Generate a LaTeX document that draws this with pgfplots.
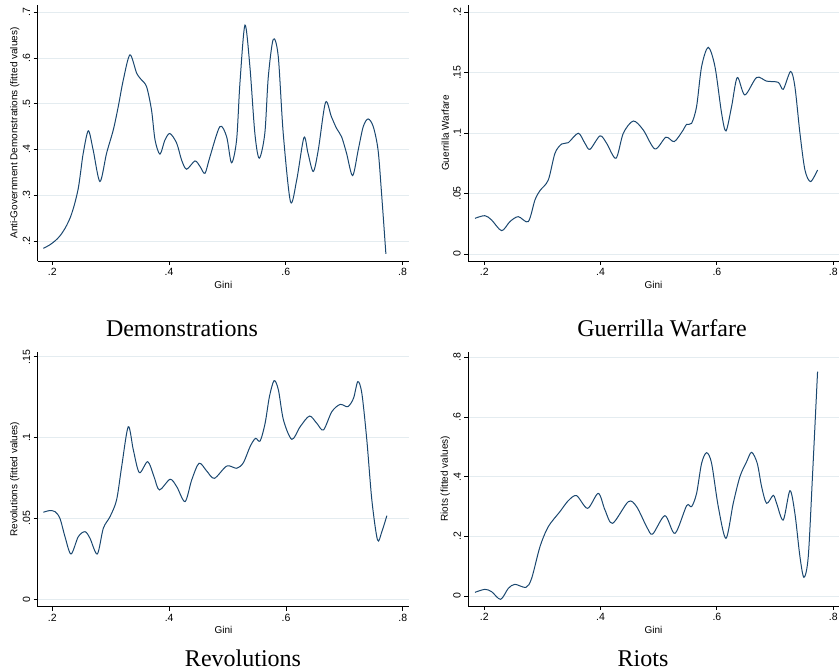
\documentclass[border=0pt]{standalone}
\usepackage{fontspec}
\setmainfont{Liberation Sans}
\newfontfamily\tms{Liberation Serif}
\usepackage{pgfplots}
\pgfplotsset{compat=1.18}
\definecolor{stnavy}{RGB}{26,71,111}
\definecolor{stgrid}{RGB}{228,236,240}
\pgfplotsset{
 stata/.style={
  scale only axis,
  axis lines=left,
  axis line style={-, black, line width=0.9pt},
  tick align=outside,
  major tick length=4pt,
  tick style={black, line width=0.9pt},
  ymajorgrids,
  grid style={stgrid, line width=0.8pt},
  xtick={0.2,0.4,0.6,0.8},
  xticklabels={.2,.4,.6,.8},
  tick label style={font=\fontsize{10.5}{12}\selectfont},
  label style={font=\fontsize{10.7}{12}\selectfont},
  yticklabel style={rotate=90, anchor=south},
  every axis x label/.style={at={(axis description cs:0.5,0)}, anchor=center, yshift=-23.5pt},
  every axis y label/.style={at={(axis description cs:0,0.5)}, rotate=90, anchor=center, yshift=23pt},
  xlabel={Gini},
 },
 curve/.style={stnavy, line width=1pt, smooth, no marks}
}
\begin{document}
\begin{tikzpicture}
\useasboundingbox (0pt,0pt) rectangle (839pt,672pt);
% Demonstrations
\begin{axis}[stata, at={(37.7pt,411pt)}, anchor=south west, width=371.3pt, height=256pt,
  xmin=0.175, xmax=0.811, ymin=0.1563, ymax=0.716,
  ytick={0.2,0.3,0.4,0.5,0.6,0.7}, yticklabels={.2,.3,.4,.5,.6,.7},
  ylabel={Anti-Government Demonstrations (fitted values)}]
\addplot[curve] table {
0.1846 0.184
0.195 0.191
0.2045 0.200
0.213 0.211
0.222 0.228
0.231 0.252
0.238 0.280
0.2445 0.315
0.249 0.355
0.253 0.392
0.2617 0.441
0.270 0.399
0.2816 0.330
0.293 0.392
0.3045 0.443
0.313 0.494
0.3216 0.552
0.333 0.607
0.3445 0.567
0.353 0.552
0.3616 0.537
0.370 0.486
0.376 0.421
0.3844 0.390
0.393 0.421
0.4015 0.435
0.413 0.414
0.4215 0.377
0.430 0.357
0.4443 0.375
0.453 0.363
0.4615 0.348
0.470 0.384
0.487 0.450
0.4986 0.428
0.507 0.371
0.5157 0.421
0.5214 0.545
0.530 0.672
0.5385 0.581
0.547 0.435
0.5545 0.381
0.564 0.435
0.570 0.559
0.5785 0.641
0.587 0.604
0.5956 0.435
0.608 0.286
0.6186 0.333
0.631 0.426
0.638 0.392
0.647 0.352
0.6556 0.399
0.668 0.503
0.678 0.472
0.687 0.446
0.6955 0.428
0.704 0.392
0.7144 0.343
0.724 0.399
0.7326 0.450
0.741 0.467
0.7498 0.450
0.758 0.399
0.764 0.304
0.7714 0.172
};
\end{axis}
% Guerrilla Warfare
\begin{axis}[stata, at={(468.3pt,411pt)}, anchor=south west, width=370.2pt, height=256pt,
  xmin=0.1725, xmax=0.809, ymin=-0.0058, ymax=0.206,
  ytick={0,0.05,0.1,0.15,0.2}, yticklabels={0,.05,.1,.15,.2},
  ylabel={Guerrilla Warfare}]
\addplot[curve] table {
0.184 0.0295
0.201 0.0317
0.2126 0.0281
0.2298 0.0193
0.2441 0.0268
0.2585 0.0309
0.2756 0.0268
0.2871 0.0447
0.2957 0.0524
0.310 0.0612
0.3215 0.0833
0.333 0.091
0.3444 0.0921
0.3616 0.0999
0.373 0.0916
0.3817 0.0866
0.3989 0.0977
0.4103 0.0916
0.4264 0.0792
0.439 0.0999
0.4562 0.110
0.4733 0.1026
0.4934 0.0869
0.5123 0.0966
0.5267 0.093
0.542 0.1026
0.5478 0.1073
0.5564 0.1081
0.565 0.122
0.5736 0.155
0.585 0.171
0.5966 0.155
0.608 0.1164
0.6155 0.1018
0.6252 0.122
0.635 0.146
0.648 0.1316
0.6682 0.146
0.6854 0.143
0.7054 0.142
0.714 0.1363
0.7266 0.151
0.734 0.1385
0.7427 0.0999
0.7513 0.0695
0.761 0.0599
0.773 0.0695
};
\end{axis}
% Revolutions
\begin{axis}[stata, at={(37.7pt,65.3pt)}, anchor=south west, width=371.6pt, height=255pt,
  xmin=0.175, xmax=0.811, ymin=-0.0046, ymax=0.1531,
  ytick={0,0.05,0.1,0.15}, yticklabels={0,.05,.1,.15},
  ylabel={Revolutions (fitted values)}]
\addplot[curve] table {
0.1846 0.0538
0.1949 0.0548
0.2046 0.0542
0.2131 0.050
0.2217 0.0387
0.232 0.028
0.2445 0.0387
0.256 0.0418
0.2645 0.0377
0.277 0.028
0.2873 0.0439
0.2988 0.0511
0.310 0.0614
0.3187 0.082
0.330 0.1067
0.3387 0.0923
0.349 0.0783
0.3633 0.0851
0.3741 0.0758
0.3833 0.0676
0.4015 0.0742
0.413 0.0696
0.4272 0.0604
0.4386 0.0738
0.4512 0.0841
0.4643 0.0793
0.4774 0.0748
0.4986 0.0824
0.5157 0.081
0.5271 0.0845
0.5385 0.0944
0.5477 0.0995
0.5557 0.0979
0.5642 0.1088
0.5716 0.1253
0.5796 0.1352
0.587 0.1294
0.5956 0.1109
0.6099 0.0989
0.6242 0.1067
0.6401 0.1133
0.6527 0.1088
0.6641 0.1047
0.6784 0.116
0.6927 0.1205
0.7058 0.1191
0.7155 0.1243
0.7229 0.1346
0.7298 0.1273
0.7383 0.0985
0.7469 0.0614
0.7566 0.0367
0.764 0.0418
0.7726 0.0517
};
\end{axis}
% Riots
\begin{axis}[stata, at={(468.3pt,66pt)}, anchor=south west, width=370.2pt, height=254.3pt,
  xmin=0.1725, xmax=0.809, ymin=-0.0335, ymax=0.819,
  ytick={0,0.2,0.4,0.6,0.8}, yticklabels={0,.2,.4,.6,.8},
  ylabel={Riots (fitted values)}]
\addplot[curve] table {
0.184 0.0123
0.201 0.0223
0.2126 0.0145
0.2281 -0.0112
0.2413 0.0257
0.2527 0.0391
0.2716 0.029
0.2814 0.0592
0.2957 0.165
0.310 0.2324
0.330 0.2827
0.3444 0.3196
0.3587 0.3363
0.3776 0.2939
0.396 0.3441
0.4075 0.2883
0.4206 0.2436
0.4476 0.3162
0.4619 0.2994
0.4791 0.2324
0.4894 0.2078
0.5106 0.2693
0.5278 0.21
0.5479 0.3028
0.5564 0.2994
0.565 0.3441
0.5736 0.4447
0.5822 0.4804
0.5908 0.4447
0.6023 0.2994
0.6155 0.1933
0.628 0.3106
0.6395 0.40
0.651 0.4503
0.6596 0.4816
0.6693 0.4447
0.6768 0.3665
0.6854 0.3106
0.6968 0.3374
0.7026 0.3106
0.714 0.2547
0.7255 0.3531
0.734 0.2771
0.7427 0.1318
0.7496 0.0626
0.757 0.1318
0.7645 0.4112
0.773 0.752
};
\end{axis}
\node[anchor=base, font=\tms\fontsize{24}{28}\selectfont] at (182pt,335.3pt) {Demonstrations};
\node[anchor=base, font=\tms\fontsize{24}{28}\selectfont] at (662pt,335.3pt) {Guerrilla Warfare};
\node[anchor=base, font=\tms\fontsize{24}{28}\selectfont] at (243pt,5.5pt) {Revolutions};
\node[anchor=base, font=\tms\fontsize{24}{28}\selectfont] at (643pt,5.5pt) {Riots};
\end{tikzpicture}
\end{document}
